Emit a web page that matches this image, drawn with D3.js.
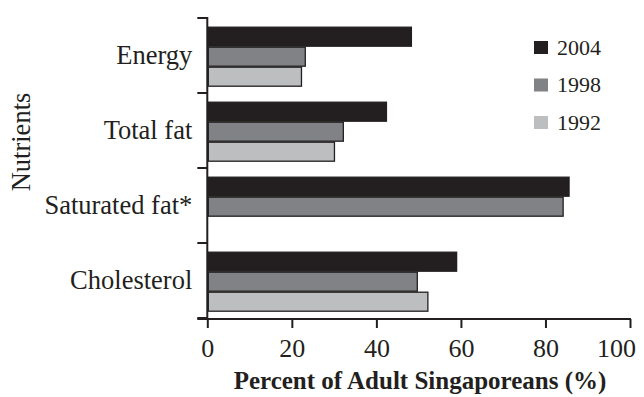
<!DOCTYPE html>
<html>
<head>
<meta charset="utf-8">
<script src="https://cdn.jsdelivr.net/npm/d3@7"></script>
<style>
  html, body { margin: 0; padding: 0; background: #fff; }
  svg { display: block; }
  text { font-family: "Liberation Serif", "Times New Roman", serif; fill: #231f20; }
</style>
</head>
<body>
<svg id="chart" width="644" height="397"></svg>
<script>
const categories = ["Energy", "Total fat", "Saturated fat*", "Cholesterol"];
const years = ["2004", "1998", "1992"];
const v2004 = [48.4, 42.5, 85.7, 59.1];
const v1998 = [23.3, 32.3, 84.3, 49.8];
const v1992 = [22.4, 30.2, null, 52.3];
const xTicks = [0, 20, 40, 60, 80, 100];
const yTitle = "Nutrients";
const xTitle = "Percent of Adult Singaporeans (%)";

const seriesValues = { "2004": v2004, "1998": v1998, "1992": v1992 };
const colors = { "2004": "#231f20", "1998": "#808285", "1992": "#bcbec0" };
const ink = "#231f20";

const svg = d3.select("#chart");
const x = d3.scaleLinear().domain([0, 100]).range([207.3, 630]);
const y = d3.scaleBand().domain(categories).range([18, 318]).paddingInner(0).paddingOuter(0);
const ySub = d3.scaleBand().domain(years).range([8.7, 68.7]);

// Bars
const rows = [];
categories.forEach((c, i) => {
  years.forEach(yr => {
    const v = seriesValues[yr][i];
    if (v != null) rows.push({ cat: c, year: yr, value: v });
  });
});

svg.append("g").selectAll("rect")
  .data(rows)
  .enter().append("rect")
  .attr("x", x(0) + 1)
  .attr("y", d => y(d.cat) + ySub(d.year) + 0.5)
  .attr("width", d => x(d.value) - x(0) - 1.5)
  .attr("height", ySub.bandwidth() - 1)
  .attr("fill", d => colors[d.year])
  .attr("stroke", ink)
  .attr("stroke-width", 1.3);

// Y axis line and category boundary ticks
const yAxis = svg.append("g");
yAxis.append("line")
  .attr("x1", x(0)).attr("x2", x(0))
  .attr("y1", y.range()[0] - 1).attr("y2", y.range()[1] + 1)
  .attr("stroke", ink).attr("stroke-width", 2);
const bounds = categories.map(c => y(c)).concat([y.range()[1]]);
yAxis.selectAll("line.tick")
  .data(bounds)
  .enter().append("line")
  .attr("class", "tick")
  .attr("x1", x(0) - 10).attr("x2", x(0))
  .attr("y1", d => d).attr("y2", d => d)
  .attr("stroke", ink).attr("stroke-width", 2);
yAxis.selectAll("text")
  .data(categories)
  .enter().append("text")
  .attr("x", x(0) - 15)
  .attr("y", d => y(d) + y.bandwidth() / 2 + 8.5)
  .attr("text-anchor", "end")
  .style("font-size", "26.5px")
  .text(d => d);

// X axis
const xAxisY = 319;
const xg = svg.append("g").attr("transform", `translate(0,${xAxisY})`)
  .call(d3.axisBottom(x).tickValues(xTicks).tickSize(9).tickSizeOuter(0).tickFormat(d3.format("d")));
xg.select(".domain").remove();
xg.selectAll(".tick line").attr("stroke", ink).attr("stroke-width", 2);
xg.selectAll(".tick text")
  .attr("y", 38).attr("dy", 0)
  .attr("x", d => d === 100 ? -14 : 0)
  .style("font-size", "26px")
  .style("font-family", "'Liberation Serif', serif")
  .attr("fill", ink);
svg.append("line")
  .attr("x1", x(0) - 10).attr("x2", x(100) + 1)
  .attr("y1", xAxisY).attr("y2", xAxisY)
  .attr("stroke", ink).attr("stroke-width", 2);

// Axis titles
svg.append("text")
  .attr("x", 420).attr("y", 389)
  .attr("text-anchor", "middle")
  .style("font-size", "25px")
  .style("font-weight", "bold")
  .text(xTitle);

svg.append("text")
  .attr("transform", "translate(30,142) rotate(-90)")
  .attr("text-anchor", "middle")
  .style("font-size", "26.5px")
  .text(yTitle);

// Legend
const lg = svg.append("g");
years.forEach((yr, i) => {
  const ly = 41 + i * 37.5;
  lg.append("rect")
    .attr("x", 534).attr("y", ly)
    .attr("width", 14).attr("height", 13)
    .attr("fill", colors[yr]);
  lg.append("text")
    .attr("x", 557).attr("y", ly + 13.5)
    .style("font-size", "22px")
    .text(yr);
});
</script>
</body>
</html>
